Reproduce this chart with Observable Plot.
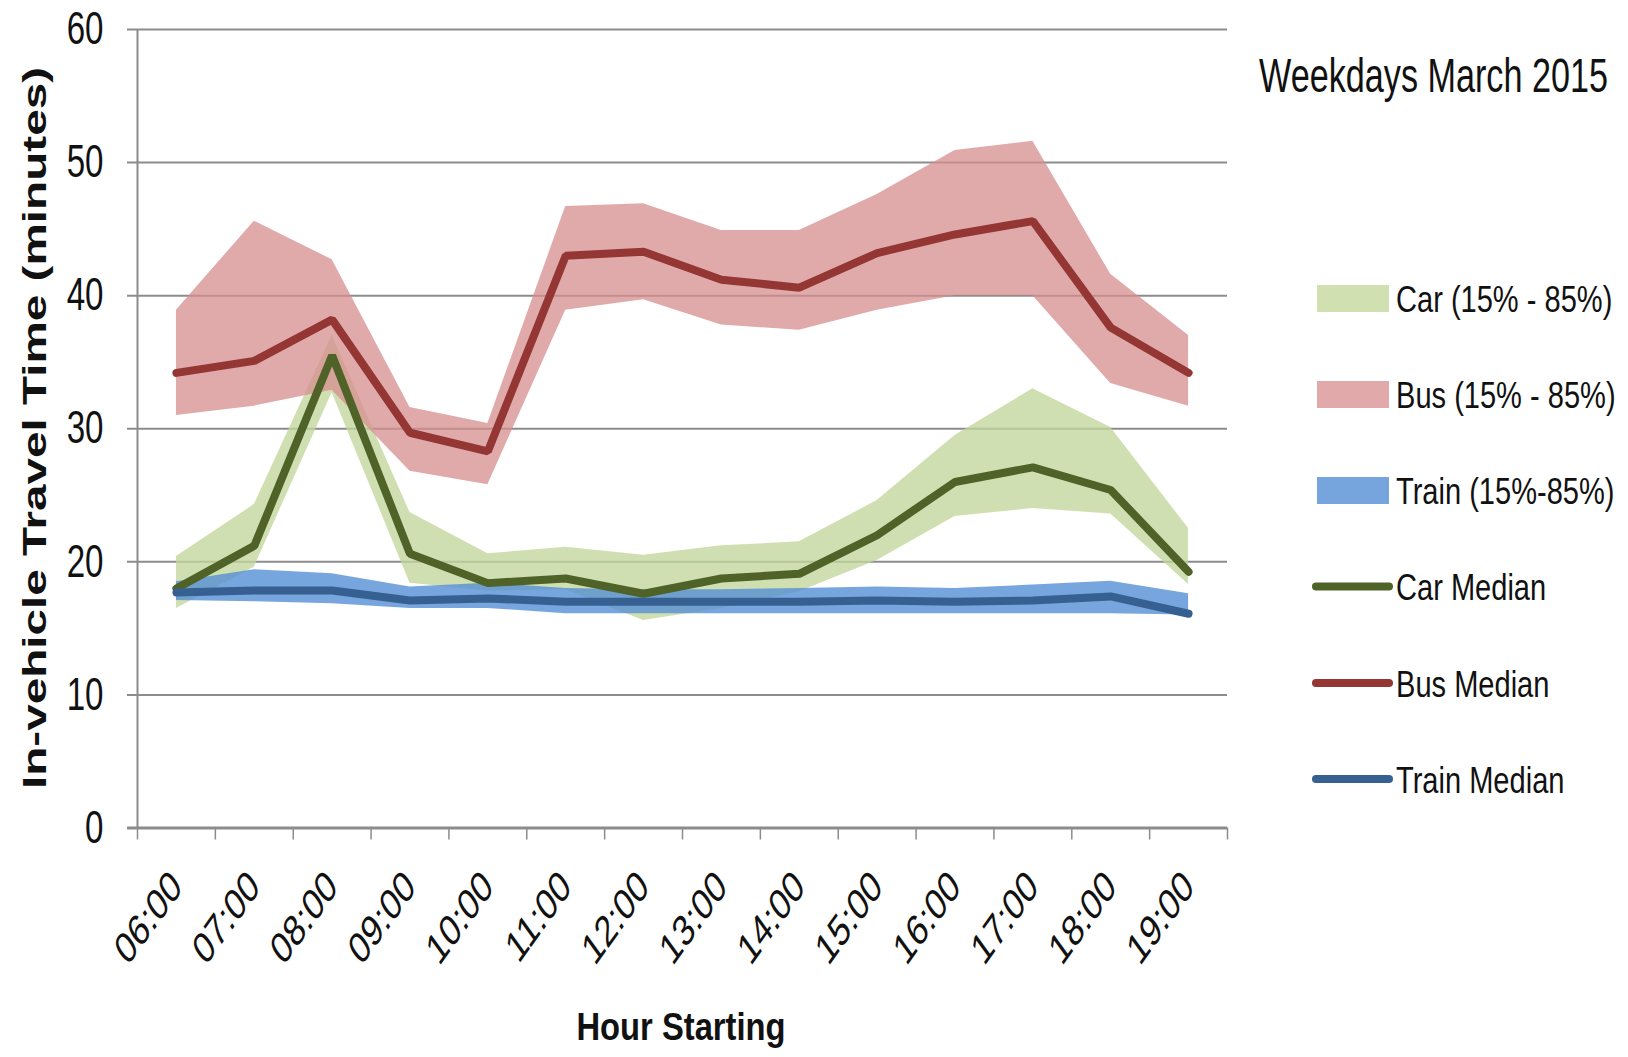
<!DOCTYPE html>
<html>
<head>
<meta charset="utf-8">
<script src="https://cdn.jsdelivr.net/npm/d3@7"></script>
<script src="https://cdn.jsdelivr.net/npm/@observablehq/plot@0.6"></script>
<style>
  html, body { margin: 0; padding: 0; background: #fff; }
  svg { display: block; }
</style>
</head>
<body>
<div id="chart"></div>
<script>
const hours = ["06:00","07:00","08:00","09:00","10:00","11:00","12:00","13:00","14:00","15:00","16:00","17:00","18:00","19:00"];

const carMedian = [18.0, 21.2, 35.5, 20.6, 18.4, 18.75, 17.6, 18.75, 19.1, 22.0, 26.0, 27.1, 25.4, 19.25];
const carLow    = [16.5, 19.6, 32.7, 18.4, 17.8, 17.9, 15.6, 16.5, 17.75, 20.1, 23.4, 24.0, 23.6, 18.3];
const carHigh   = [20.4, 24.3, 37.0, 23.7, 20.6, 21.1, 20.5, 21.2, 21.5, 24.6, 29.5, 33.0, 30.1, 22.5];

const busMedian = [34.2, 35.1, 38.2, 29.7, 28.3, 43.0, 43.3, 41.2, 40.6, 43.2, 44.6, 45.6, 37.6, 34.2];
const busLow    = [31.0, 31.7, 32.9, 26.8, 25.8, 38.9, 39.7, 37.8, 37.4, 38.9, 40.0, 40.0, 33.4, 31.7];
const busHigh   = [38.9, 45.6, 42.7, 31.6, 30.4, 46.7, 46.9, 44.9, 44.9, 47.6, 50.9, 51.6, 41.6, 37.0];

const trainMedian = [17.7, 17.85, 17.85, 17.1, 17.25, 17.0, 17.0, 17.0, 17.0, 17.1, 17.0, 17.1, 17.4, 16.1];
const trainLow    = [17.1, 17.0, 16.85, 16.5, 16.5, 16.1, 16.1, 16.1, 16.1, 16.1, 16.1, 16.1, 16.1, 16.0];
const trainHigh   = [18.5, 19.4, 19.1, 18.1, 18.4, 18.0, 17.9, 17.9, 18.0, 18.1, 18.0, 18.25, 18.55, 17.6];

const yTicks = [0, 10, 20, 30, 40, 50, 60];
const title = "Weekdays March 2015";
const xLabel = "Hour Starting";
const yLabel = "In-vehicle Travel Time (minutes)";

const legendLabels = ["Car (15% - 85%)", "Bus (15% - 85%)", "Train (15%-85%)", "Car Median", "Bus Median", "Train Median"];
const legendKinds  = ["band", "band", "band", "line", "line", "line"];

const colors = {
  carBand: "#d0e0b1", busBand: "#e1a9a9", trainBand: "#76a5dd",
  car: "#4f6228", bus: "#943634", train: "#376092"
};
const legendColors = [colors.carBand, colors.busBand, colors.trainBand, colors.car, colors.bus, colors.train];

const idx = hours.map((_, i) => i);
const bounds = d3.range(-0.5, hours.length, 1);
const rows = idx.map(i => ({
  i,
  carMedian: carMedian[i], carLow: carLow[i], carHigh: carHigh[i],
  busMedian: busMedian[i], busLow: busLow[i], busHigh: busHigh[i],
  trainMedian: trainMedian[i], trainLow: trainLow[i], trainHigh: trainHigh[i]
}));

const font = "'Liberation Sans', Arial, sans-serif";
const grid = "#8c8c8c";
const SQ = 0.72; // horizontal squeeze of the reference picture

const chart = Plot.plot({
  width: 1628,
  height: 1057,
  marginLeft: 137,
  marginRight: 401,
  marginTop: 29,
  marginBottom: 229.5,
  style: {fontFamily: font, background: "#fff"},
  x: {type: "linear", domain: [-0.5, hours.length - 0.5], axis: null},
  y: {type: "linear", domain: [0, 60], axis: null},
  marks: [
    Plot.ruleY(yTicks.filter(d => d > 0), {stroke: grid, strokeWidth: 2, insetLeft: -10}),
    Plot.areaY(rows, {x: "i", y1: "carLow", y2: "carHigh", fill: "#c3d69b", fillOpacity: 0.78}),
    Plot.areaY(rows, {x: "i", y1: "busLow", y2: "busHigh", fill: "#d68e8d", fillOpacity: 0.75}),
    Plot.areaY(rows, {x: "i", y1: "trainLow", y2: "trainHigh", fill: "#558ed5", fillOpacity: 0.8}),
    Plot.lineY(rows, {x: "i", y: "carMedian", stroke: colors.car, strokeWidth: 8, strokeLinecap: "round", strokeLinejoin: "miter"}),
    Plot.lineY(rows, {x: "i", y: "busMedian", stroke: colors.bus, strokeWidth: 8, strokeLinecap: "round", strokeLinejoin: "miter"}),
    Plot.lineY(rows, {x: "i", y: "trainMedian", stroke: colors.train, strokeWidth: 8, strokeLinecap: "round", strokeLinejoin: "miter"}),
    Plot.ruleX([-0.5], {stroke: grid, strokeWidth: 2}),
    Plot.ruleY([0], {stroke: grid, strokeWidth: 3, insetLeft: -10}),
    Plot.axisX(bounds, {tickSize: 12, tickFormat: () => "", stroke: grid, strokeWidth: 1.5, label: null}),
    Plot.axisX(idx, {tickSize: 0, tickPadding: 51, tickRotate: -45, tickFormat: i => hours[i], fontSize: 44, fill: "#111", label: null}),
    Plot.axisY(yTicks, {tickSize: 0, tickPadding: 34, fontSize: 46, fill: "#111", label: null})
  ]
});

document.getElementById("chart").appendChild(chart);
const svg = d3.select(chart);

// apply the picture's horizontal squeeze to the axis tick labels (transform only; keep Plot's x/y/dy attributes)
svg.selectAll('g[aria-label="x-axis tick label"] text, g[aria-label="y-axis tick label"] text').each(function() {
  let t = this.getAttribute("transform") || "";
  if (t.includes("rotate(")) t = t.replace("rotate(", `scale(${SQ},1) rotate(`);
  else t += ` scale(${SQ},1)`;
  this.setAttribute("transform", t);
});

// Title
svg.append("text")
  .attr("transform", `translate(1259,92) scale(${SQ},1)`)
  .attr("text-anchor", "start")
  .attr("font-family", font).attr("font-size", 47.5).attr("fill", "#111")
  .text(title);

// X label
svg.append("text")
  .attr("transform", `translate(681,1040) scale(0.84,1)`)
  .attr("text-anchor", "middle")
  .attr("font-family", font).attr("font-size", 39).attr("font-weight", "bold").attr("fill", "#111")
  .text(xLabel);

// Y label
svg.append("text")
  .attr("transform", `translate(46,428) scale(${SQ},1) rotate(-90)`)
  .attr("text-anchor", "middle")
  .attr("font-family", font).attr("font-size", 47).attr("font-weight", "bold").attr("fill", "#111")
  .attr("textLength", 722).attr("lengthAdjust", "spacingAndGlyphs")
  .text(yLabel);

// Legend
const legendY = [298.5, 394.5, 490.5, 586.5, 683, 779];
const lg = svg.append("g");
legendLabels.forEach((label, k) => {
  const cy = legendY[k];
  if (legendKinds[k] === "band") {
    lg.append("rect").attr("x", 1317).attr("y", cy - 13.5).attr("width", 72).attr("height", 27).attr("fill", legendColors[k]);
  } else {
    lg.append("line").attr("x1", 1316).attr("x2", 1389).attr("y1", cy).attr("y2", cy)
      .attr("stroke", legendColors[k]).attr("stroke-width", 8).attr("stroke-linecap", "round");
  }
  lg.append("text")
    .attr("transform", `translate(1396,${cy + 13.5}) scale(0.775,1)`)
    .attr("text-anchor", "start")
    .attr("font-family", font).attr("font-size", 37.5).attr("fill", "#111")
    .text(label);
});
</script>
</body>
</html>
